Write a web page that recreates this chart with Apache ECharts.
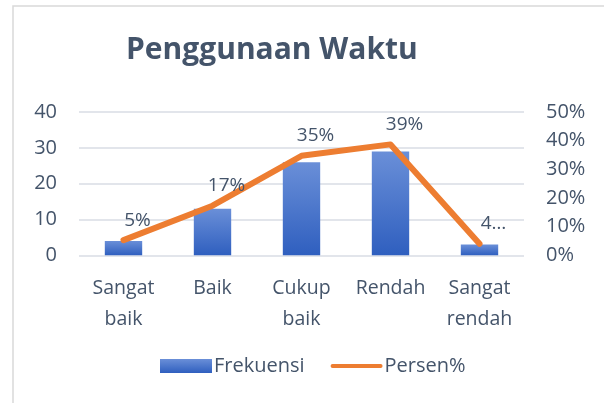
<!DOCTYPE html>
<html><head><meta charset="utf-8">
<script src="https://cdn.jsdelivr.net/npm/echarts@6/dist/echarts.min.js"></script>
<style>html,body{margin:0;padding:0;background:#fff}#c{width:604px;height:403px}</style>
</head><body><div id="c"></div>
<script>
var categories = ['Sangat\nbaik', 'Baik', 'Cukup\nbaik', 'Rendah', 'Sangat\nrendah'];
var frekuensi = [4, 13, 26, 29, 3];
var persen = [5.3, 17.3, 34.7, 38.7, 4.0];
var persenLabels = ['5%', '17%', '35%', '39%', '4…'];
var leftTicks = [0, 10, 20, 30, 40];
var rightTicks = [0, 10, 20, 30, 40, 50];

var txt = '#44546A';
var font = 'Open Sans';
var chart = echarts.init(document.getElementById('c'), null, {renderer: 'canvas'});
chart.setOption({
  animation: false,
  textStyle: {fontFamily: font},
  graphic: [{type: 'rect', shape: {x: 13, y: 6, width: 700, height: 500}, style: {fill: 'none', stroke: '#d9d9d9', lineWidth: 1.5}, z: -1}],
  title: {text: 'Penggunaan Waktu', left: 121, top: 30, textStyle: {fontFamily: font, fontSize: 30, fontWeight: 'bold', color: txt}},
  grid: {left: 79, right: 80, top: 112, bottom: 147.7, containLabel: false},
  legend: {
    bottom: 22, left: 155, itemGap: 26, itemWidth: 52, itemHeight: 14,
    textStyle: {fontFamily: font, fontSize: 20, color: txt, padding: [0, 0, 0, -3]},
    data: [{name: 'Frekuensi', icon: 'rect'}, {name: 'Persen%', icon: 'path://M2,0 L50,0 A2,2 0 0 1 50,4 L2,4 A2,2 0 0 1 2,0 Z', itemStyle: {color: '#ED7D31'}}]
  },
  xAxis: {
    type: 'category', data: categories,
    axisLine: {show: false}, axisTick: {show: false},
    axisLabel: {interval: 0, hideOverlap: false, fontFamily: font, fontSize: 19.5, color: txt, lineHeight: 31, margin: 18}
  },
  yAxis: [{
    type: 'value', min: leftTicks[0], max: leftTicks[leftTicks.length - 1], interval: 10,
    axisLabel: {fontFamily: font, fontSize: 20, color: txt, margin: 22},
    splitLine: {lineStyle: {color: '#d9dde4', width: 1.5}},
    axisLine: {show: false}, axisTick: {show: false}
  }, {
    type: 'value', min: rightTicks[0], max: rightTicks[rightTicks.length - 1], interval: 10,
    axisLabel: {fontFamily: font, fontSize: 20, color: txt, margin: 22, formatter: '{value}%'},
    splitLine: {show: false}, axisLine: {show: false}, axisTick: {show: false}
  }],
  series: [{
    name: 'Frekuensi', type: 'bar', data: frekuensi, barWidth: '42%', yAxisIndex: 0,
    itemStyle: {color: new echarts.graphic.LinearGradient(0, 0, 0, 1, [{offset: 0, color: '#6a8fd8'}, {offset: 1, color: '#2f5fbf'}])}
  }, {
    name: 'Persen%', type: 'line', data: persen, yAxisIndex: 1,
    symbol: 'circle', showSymbol: true, symbolSize: 1,
    lineStyle: {color: '#ED7D31', width: 6, cap: 'round', join: 'round'},
    itemStyle: {color: '#ED7D31'},
    label: {show: true, position: 'top', distance: 5, offset: [14, -5], fontFamily: font, fontSize: 19, color: txt,
      formatter: function (p) { return persenLabels[p.dataIndex]; }}
  }]
});
</script></body></html>
